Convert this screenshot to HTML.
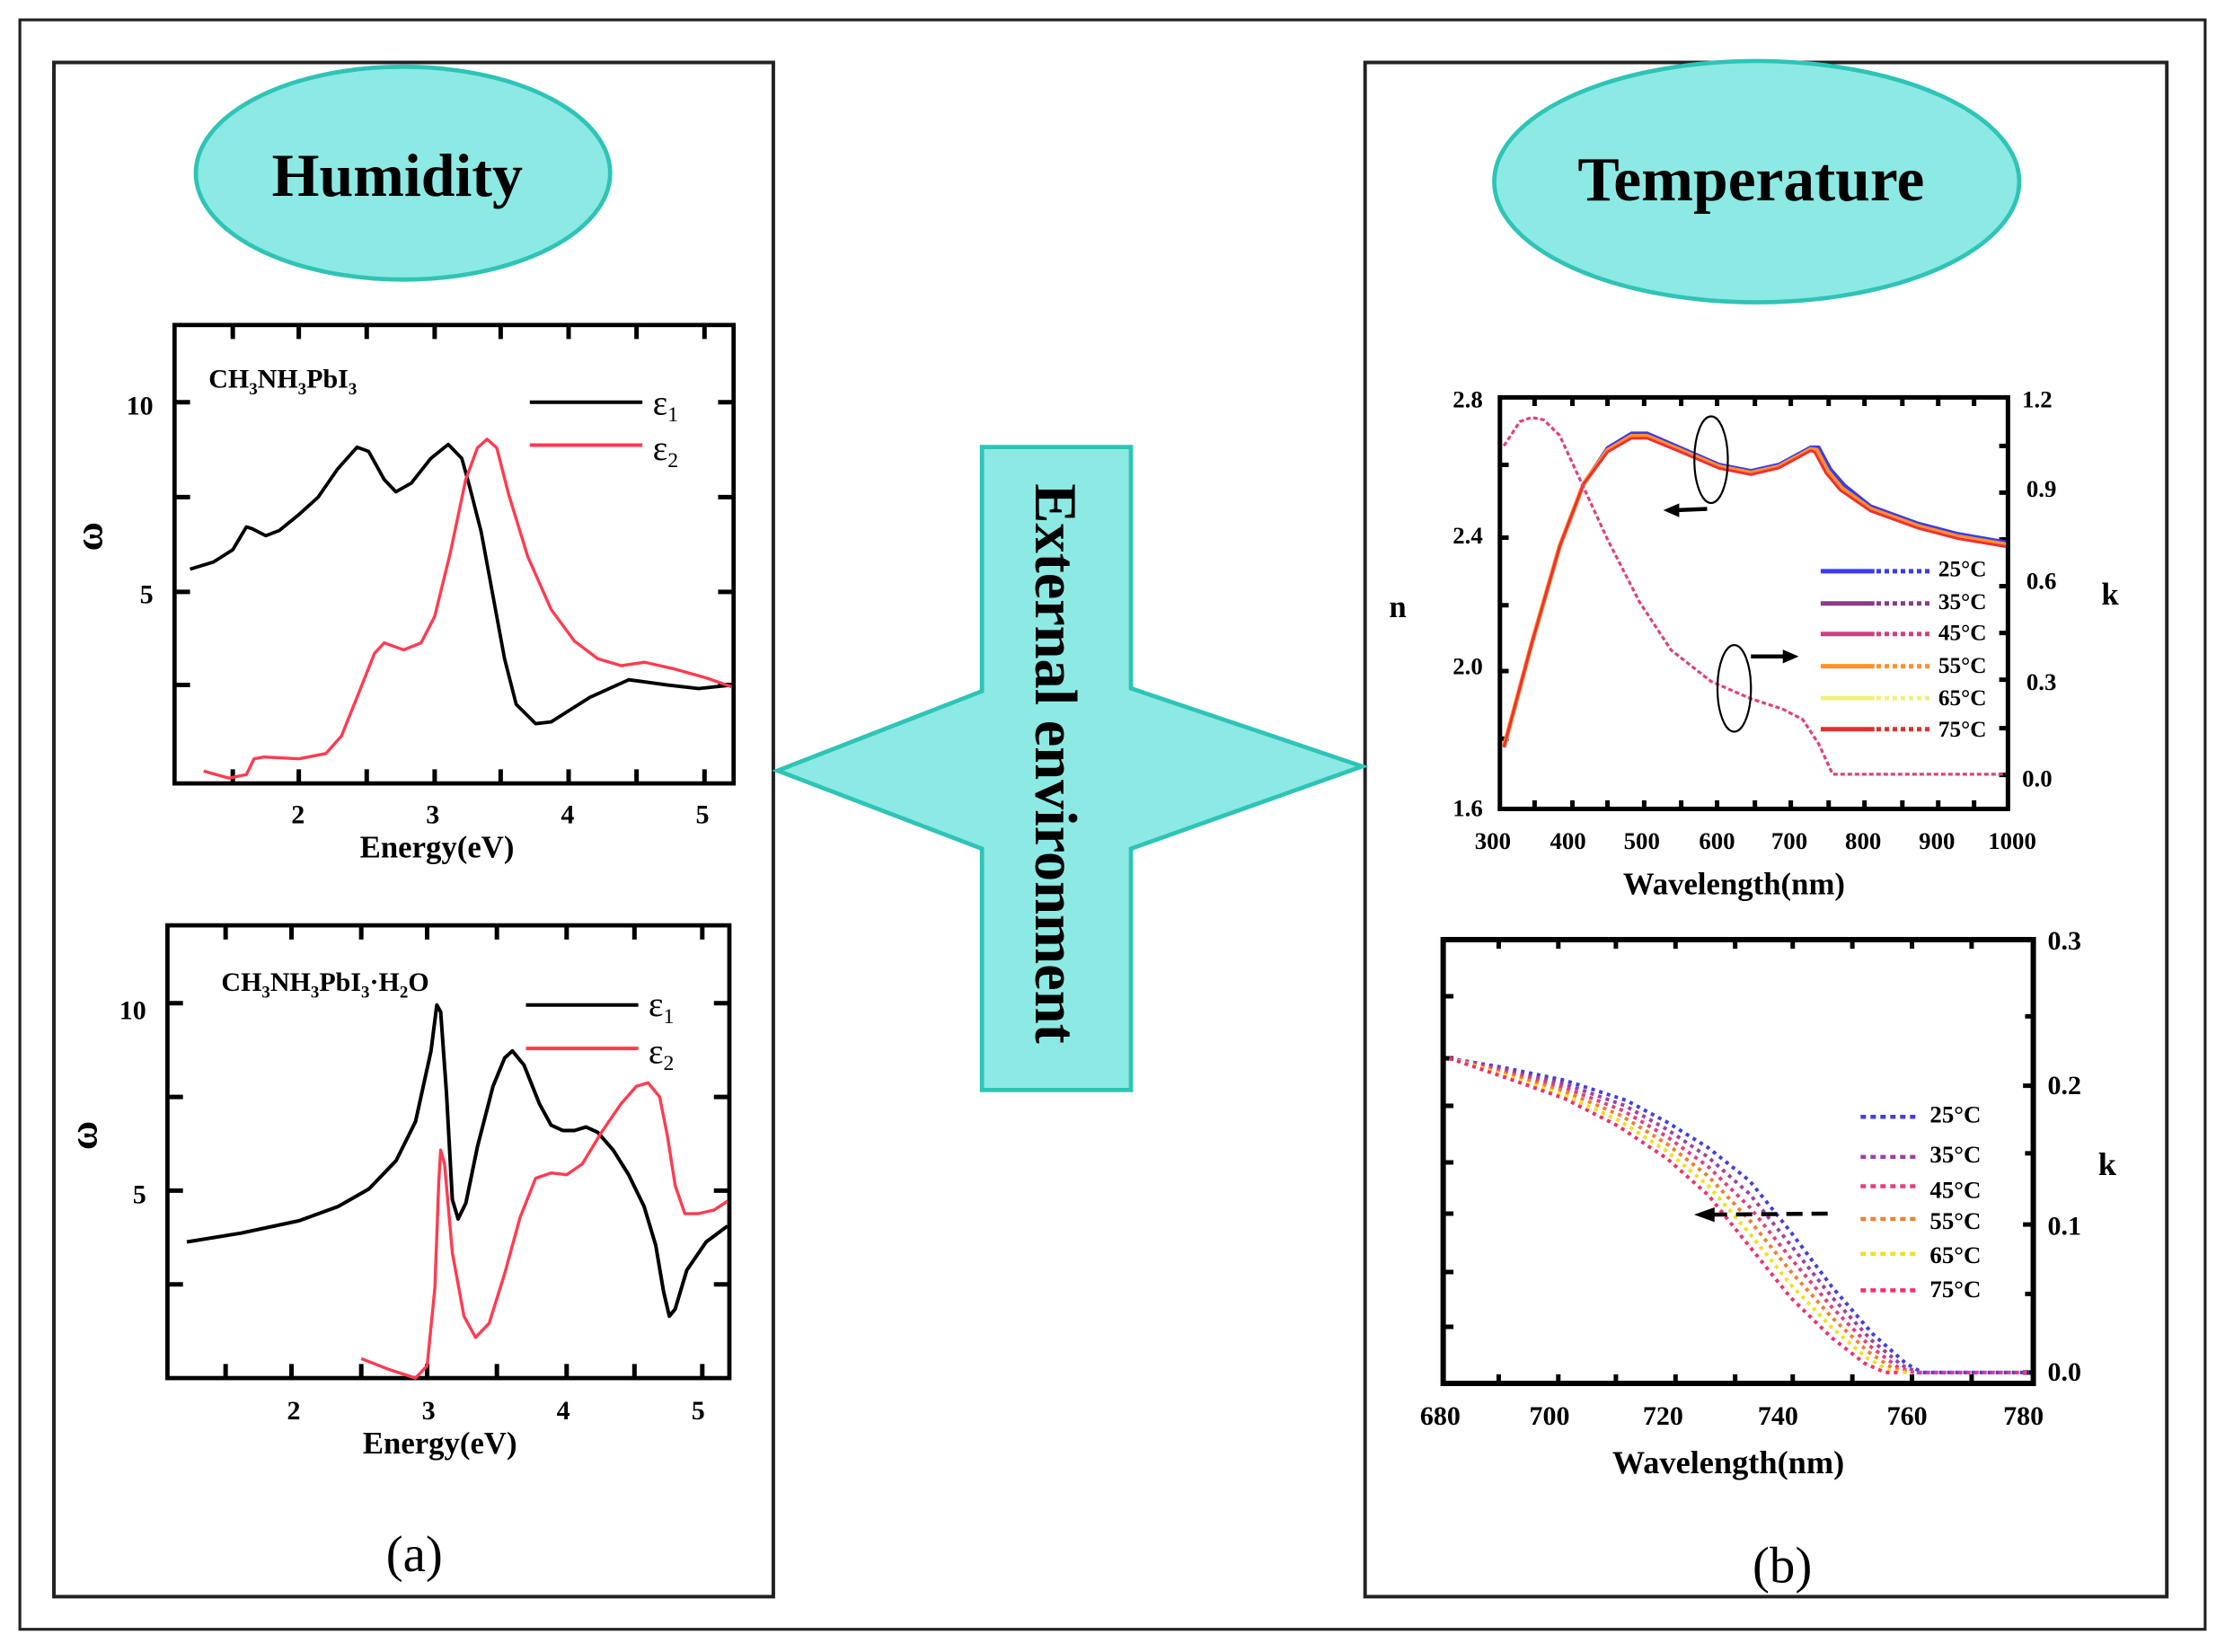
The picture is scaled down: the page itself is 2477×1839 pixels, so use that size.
<!DOCTYPE html>
<html><head><meta charset="utf-8"><style>
html,body{margin:0;padding:0;background:#fff;}
svg{display:block;}
text{font-family:"Liberation Serif",serif;}
</style></head><body>
<svg width="2477" height="1839" viewBox="0 0 1568 1164" preserveAspectRatio="none" xmlns="http://www.w3.org/2000/svg">
<rect x="0" y="0" width="1568" height="1164" fill="#fff"/>
<rect x="14" y="14" width="1540" height="1134" fill="none" stroke="#222" stroke-width="2"/>
<rect x="38" y="44" width="507" height="1081" fill="none" stroke="#222" stroke-width="2.5"/>
<rect x="962" y="44" width="565" height="1081" fill="none" stroke="#222" stroke-width="2.5"/>

<ellipse cx="284" cy="122" rx="146" ry="75" fill="#8de9e3" stroke="#2ec4b6" stroke-width="3"/>
<text x="280" y="138" font-size="43" font-weight="bold" text-anchor="middle">Humidity</text>
<ellipse cx="1238" cy="128" rx="185" ry="85" fill="#8de9e3" stroke="#2ec4b6" stroke-width="3"/>
<text x="1234" y="141" font-size="44" font-weight="bold" text-anchor="middle">Temperature</text>

<polygon points="692,315 797,315 797,485 960,540 797,598 797,768 692,768 692,598 548,543 692,487" fill="#8de9e3" stroke="#2ec4b6" stroke-width="3"/>
<text transform="translate(730,538) rotate(90)" font-size="42" font-weight="bold" text-anchor="middle">External environment</text>

<!-- TOP LEFT PLOT -->
<rect x="123" y="229" width="394" height="323" fill="none" stroke="#000" stroke-width="3"/>
<g transform="translate(114.8,216.6) scale(0.2736,0.2475)" fill="none">
<path vector-effect="non-scaling-stroke" stroke="#000" stroke-width="5" d="M180,50v40M350,50v40M525,50v40M700,50v40M870,50v40M1045,50v40M1220,50v40M1395,50v40 M180,1355v-40M350,1355v-40M525,1355v-40M700,1355v-40M870,1355v-40M1045,1355v-40M1220,1355v-40M1395,1355v-40 M30,270h40M30,540h40M30,810h40M30,1075h40 M1470,270h-40M1470,540h-40M1470,810h-40M1470,1075h-40"/>
<path vector-effect="non-scaling-stroke" stroke="#000" stroke-width="3.8" stroke-linejoin="round" d="M70,745 L130,725 L180,690 L215,625 L230,630 L265,650 L300,635 L350,590 L400,540 L450,460 L500,398 L530,410 L570,490 L600,525 L640,500 L690,430 L735,390 L770,430 L790,510 L820,640 L850,820 L880,1000 L910,1130 L960,1185 L1000,1180 L1100,1110 L1200,1060 L1300,1075 L1380,1085 L1465,1075"/>
<path vector-effect="non-scaling-stroke" stroke="#ff3b50" stroke-width="3.4" stroke-linejoin="round" d="M105,1320 L170,1340 L215,1330 L235,1285 L260,1280 L350,1285 L420,1270 L460,1220 L500,1110 L545,985 L570,955 L620,975 L665,955 L700,880 L740,700 L780,490 L810,400 L835,375 L860,400 L890,530 L940,710 L1000,860 L1060,950 L1120,1000 L1180,1020 L1240,1010 L1320,1030 L1400,1055 L1465,1080"/>
<path vector-effect="non-scaling-stroke" stroke="#000" stroke-width="4" d="M945,270 H1235"/>
<path vector-effect="non-scaling-stroke" stroke="#ff3b50" stroke-width="4" d="M945,392 H1235"/>
</g>
<text x="147" y="273" font-size="19" font-weight="bold">CH<tspan font-size="12" dy="5">3</tspan><tspan dy="-5">NH</tspan><tspan font-size="12" dy="5">3</tspan><tspan dy="-5">PbI</tspan><tspan font-size="12" dy="5">3</tspan></text>
<text x="460" y="292" font-size="25" font-family="Liberation Sans,sans-serif">ε<tspan font-size="15" dy="5">1</tspan></text>
<text x="460" y="324" font-size="25" font-family="Liberation Sans,sans-serif">ε<tspan font-size="15" dy="5">2</tspan></text>
<text x="108" y="292" font-size="19" font-weight="bold" text-anchor="end">10</text>
<text x="108" y="425" font-size="19" font-weight="bold" text-anchor="end">5</text>
<text transform="translate(72,378) rotate(-90)" font-size="28" font-weight="bold" text-anchor="middle">ω</text>
<text x="210" y="580" font-size="19" font-weight="bold" text-anchor="middle">2</text>
<text x="305" y="580" font-size="19" font-weight="bold" text-anchor="middle">3</text>
<text x="400" y="580" font-size="19" font-weight="bold" text-anchor="middle">4</text>
<text x="495" y="580" font-size="19" font-weight="bold" text-anchor="middle">5</text>
<text x="308" y="604" font-size="22" font-weight="bold" text-anchor="middle">Energy(eV)</text>

<!-- BOTTOM LEFT PLOT -->
<rect x="118" y="652" width="396" height="319" fill="none" stroke="#000" stroke-width="3"/>
<g transform="translate(115.3,645.8) scale(0.2731,0.2492)" fill="none">
<path vector-effect="non-scaling-stroke" stroke="#000" stroke-width="5" d="M160,25v40M330,25v40M510,25v40M680,25v40M860,25v40M1040,25v40M1215,25v40M1390,25v40 M160,1305v-40M330,1305v-40M510,1305v-40M680,1305v-40M860,1305v-40M1040,1305v-40M1215,1305v-40M1390,1305v-40 M10,245h40M10,510h40M10,775h40M10,1040h40 M1460,245h-40M1460,510h-40M1460,775h-40M1460,1040h-40"/>
<path vector-effect="non-scaling-stroke" stroke="#000" stroke-width="4" stroke-linejoin="round" d="M60,920 L200,895 L350,860 L450,820 L530,770 L600,690 L650,580 L690,380 L705,250 L715,270 L730,500 L745,800 L760,855 L780,810 L810,650 L850,480 L880,400 L900,380 L930,420 L970,530 L1000,590 L1030,605 L1060,605 L1090,595 L1120,610 L1160,660 L1200,730 L1240,820 L1270,930 L1290,1060 L1305,1130 L1320,1110 L1350,1000 L1400,920 L1455,875"/>
<path vector-effect="non-scaling-stroke" stroke="#ff3b50" stroke-width="3.4" stroke-linejoin="round" d="M510,1250 L580,1280 L650,1305 L680,1270 L700,1050 L710,750 L715,660 L725,700 L745,950 L775,1130 L805,1190 L840,1150 L880,1010 L920,850 L960,740 L1000,725 L1040,730 L1080,700 L1130,610 L1180,530 L1220,480 L1250,470 L1280,510 L1300,620 L1320,760 L1345,840 L1380,840 L1420,830 L1455,805"/>
<path vector-effect="non-scaling-stroke" stroke="#000" stroke-width="4" d="M935,250 H1225"/>
<path vector-effect="non-scaling-stroke" stroke="#ff3b50" stroke-width="4" d="M935,373 H1225"/>
</g>
<text x="156" y="698" font-size="19" font-weight="bold">CH<tspan font-size="12" dy="5">3</tspan><tspan dy="-5">NH</tspan><tspan font-size="12" dy="5">3</tspan><tspan dy="-5">PbI</tspan><tspan font-size="12" dy="5">3</tspan><tspan dy="-5">·H</tspan><tspan font-size="12" dy="5">2</tspan><tspan dy="-5">O</tspan></text>
<text x="457" y="716" font-size="25" font-family="Liberation Sans,sans-serif">ε<tspan font-size="15" dy="5">1</tspan></text>
<text x="457" y="749" font-size="25" font-family="Liberation Sans,sans-serif">ε<tspan font-size="15" dy="5">2</tspan></text>
<text x="103" y="718" font-size="19" font-weight="bold" text-anchor="end">10</text>
<text x="103" y="848" font-size="19" font-weight="bold" text-anchor="end">5</text>
<text transform="translate(68,800) rotate(-90)" font-size="28" font-weight="bold" text-anchor="middle">ω</text>
<text x="207" y="1000" font-size="19" font-weight="bold" text-anchor="middle">2</text>
<text x="302" y="1000" font-size="19" font-weight="bold" text-anchor="middle">3</text>
<text x="397" y="1000" font-size="19" font-weight="bold" text-anchor="middle">4</text>
<text x="492" y="1000" font-size="19" font-weight="bold" text-anchor="middle">5</text>
<text x="310" y="1024" font-size="22" font-weight="bold" text-anchor="middle">Energy(eV)</text>
<text x="292" y="1107" font-size="36" text-anchor="middle">(a)</text>

<!-- TOP RIGHT PLOT -->
<g transform="translate(1014.9,258) scale(0.2808,0.2441)" fill="none">
<rect vector-effect="non-scaling-stroke" x="150" y="90" width="1275" height="1188" stroke="#000" stroke-width="5"/>
<path vector-effect="non-scaling-stroke" stroke="#000" stroke-width="5" d="M237,90v25M332,90v25M420,90v25M512,90v25M605,90v25M695,90v25M790,90v25M880,90v25M975,90v25M1065,90v25M1160,90v25M1250,90v25M1340,90v25 M237,1278v-25M332,1278v-25M420,1278v-25M512,1278v-25M605,1278v-25M695,1278v-25M790,1278v-25M880,1278v-25M975,1278v-25M1065,1278v-25M1160,1278v-25M1250,1278v-25M1340,1278v-25 M150,285h22M150,495h22M150,690h22M150,880h22M150,1075h22 M1425,230h-22M1425,365h-22M1425,500h-22M1425,635h-22M1425,770h-22M1425,905h-22M1425,1045h-22M1425,1180h-22"/>
<path vector-effect="non-scaling-stroke" stroke="#3a3af0" stroke-width="4" stroke-linejoin="round" d="M160,1100 L230,800 L300,520 L360,340 L420,236 L480,194 L520,194 L600,234 L700,284 L780,302 L850,284 L930,234 L950,234 L980,298 L1015,344 L1080,404 L1200,454 L1300,484 L1420,508"/>
<path vector-effect="non-scaling-stroke" stroke="#ff9030" stroke-width="5" stroke-linejoin="round" d="M160,1100 L230,800 L300,520 L360,340 L420,243 L480,202 L520,202 L600,241 L700,290 L780,308 L850,290 L930,240 L945,242 L972,302 L1008,352 L1080,412 L1200,462 L1300,492 L1420,515"/>
<path vector-effect="non-scaling-stroke" stroke="#ee3030" stroke-width="3" stroke-linejoin="round" d="M160,1100 L230,800 L300,520 L360,340 L420,248 L480,208 L520,208 L600,246 L700,295 L780,313 L850,294 L930,244 L940,248 L968,308 L1004,358 L1080,418 L1200,468 L1300,498 L1420,521"/>
<path vector-effect="non-scaling-stroke" stroke="#e0407a" stroke-width="3.2" stroke-dasharray="5 3" stroke-linejoin="round" d="M160,230 L200,160 L230,148 L260,155 L300,200 L360,350 L420,500 L500,680 L580,820 L680,910 L780,960 L860,990 L910,1020 L950,1090 L985,1178 L1420,1178"/>
<ellipse vector-effect="non-scaling-stroke" cx="680" cy="270" rx="42" ry="125" stroke="#000" stroke-width="2.2"/>
<ellipse vector-effect="non-scaling-stroke" cx="738" cy="930" rx="42" ry="125" stroke="#000" stroke-width="2.2"/>
<path vector-effect="non-scaling-stroke" stroke="#000" stroke-width="4.5" d="M670,412 L590,416 M780,838 L870,838"/>
<polygon points="560,416 600,396 600,436" fill="#000"/>
<polygon points="900,838 860,818 860,858" fill="#000"/>
<g stroke-width="5">
<path vector-effect="non-scaling-stroke" stroke="#3a3af0" d="M955,592H1090"/><path vector-effect="non-scaling-stroke" stroke="#3a3af0" stroke-dasharray="5 4" d="M1095,592H1230"/>
<path vector-effect="non-scaling-stroke" stroke="#8a3a8a" d="M955,685H1090"/><path vector-effect="non-scaling-stroke" stroke="#8a3a8a" stroke-dasharray="5 4" d="M1095,685H1230"/>
<path vector-effect="non-scaling-stroke" stroke="#d04080" d="M955,773H1090"/><path vector-effect="non-scaling-stroke" stroke="#d04080" stroke-dasharray="5 4" d="M1095,773H1230"/>
<path vector-effect="non-scaling-stroke" stroke="#ff9030" d="M955,866H1090"/><path vector-effect="non-scaling-stroke" stroke="#ff9030" stroke-dasharray="5 4" d="M1095,866H1230"/>
<path vector-effect="non-scaling-stroke" stroke="#f0f080" d="M955,958H1090"/><path vector-effect="non-scaling-stroke" stroke="#f0f080" stroke-dasharray="5 4" d="M1095,958H1230"/>
<path vector-effect="non-scaling-stroke" stroke="#e03030" d="M955,1048H1090"/><path vector-effect="non-scaling-stroke" stroke="#e03030" stroke-dasharray="5 4" d="M1095,1048H1230"/>
</g>
</g>
<g font-size="16" font-weight="bold">
<text x="1366" y="406">25°C</text><text x="1366" y="429">35°C</text><text x="1366" y="451">45°C</text>
<text x="1366" y="474">55°C</text><text x="1366" y="497">65°C</text><text x="1366" y="519">75°C</text>
</g>
<g font-size="17" font-weight="bold">
<text x="1045" y="287" text-anchor="end">2.8</text>
<text x="1045" y="383" text-anchor="end">2.4</text>
<text x="1045" y="475" text-anchor="end">2.0</text>
<text x="1045" y="575" text-anchor="end">1.6</text>
<text x="1425" y="287">1.2</text>
<text x="1428" y="350">0.9</text>
<text x="1428" y="415">0.6</text>
<text x="1428" y="486">0.3</text>
<text x="1425" y="554">0.0</text>
<text x="1052" y="598" text-anchor="middle">300</text>
<text x="1105" y="598" text-anchor="middle">400</text>
<text x="1157" y="598" text-anchor="middle">500</text>
<text x="1210" y="598" text-anchor="middle">600</text>
<text x="1261" y="598" text-anchor="middle">700</text>
<text x="1313" y="598" text-anchor="middle">800</text>
<text x="1365" y="598" text-anchor="middle">900</text>
<text x="1418" y="598" text-anchor="middle">1000</text>
</g>
<text x="1222" y="630" font-size="22" font-weight="bold" text-anchor="middle">Wavelength(nm)</text>
<text x="985" y="435" font-size="22" font-weight="bold" text-anchor="middle">n</text>
<text x="1487" y="426" font-size="22" font-weight="bold" text-anchor="middle">k</text>

<!-- BOTTOM RIGHT PLOT -->
<g transform="translate(1001.1,646.6) scale(0.2898,0.2574)" fill="none">
<rect vector-effect="non-scaling-stroke" x="55" y="60" width="1435" height="1215" stroke="#000" stroke-width="6"/>
<path vector-effect="non-scaling-stroke" stroke="#000" stroke-width="5" d="M190,60v25M335,60v25M475,60v25M620,60v25M765,60v25M905,60v25M1050,60v25M1195,60v25M1340,60v25 M190,1275v-25M335,1275v-25M475,1275v-25M620,1275v-25M765,1275v-25M905,1275v-25M1050,1275v-25M1195,1275v-25M1340,1275v-25 M55,215h25M55,385h25M55,515h25M55,670h25M55,810h25M55,970h25M55,1120h25 M1490,270h-20M1490,460h-25M1490,645h-20M1490,840h-25M1490,1030h-20M1490,1245h-25"/>
<g stroke-width="4" stroke-dasharray="4 5" stroke-linejoin="round">
<path vector-effect="non-scaling-stroke" stroke="#4040e0" d="M70,385 L200,410 L350,445 L500,500 L600,560 L700,630 L800,720 L900,860 L1000,1010 L1100,1140 L1180,1220 L1220,1245 L1480,1245"/>
<path vector-effect="non-scaling-stroke" stroke="#a040a0" d="M70,385 L200,415 L350,455 L496,514 L600,580 L700,656 L800,756 L900,896 L1000,1038 L1096,1156 L1170,1225 L1210,1245 L1480,1245"/>
<path vector-effect="non-scaling-stroke" stroke="#e04080" d="M70,385 L200,420 L350,465 L492,528 L600,600 L700,682 L800,792 L900,932 L1000,1066 L1092,1172 L1160,1230 L1200,1245 L1480,1245"/>
<path vector-effect="non-scaling-stroke" stroke="#f08030" d="M70,385 L200,425 L350,475 L488,542 L600,620 L700,708 L800,828 L900,968 L1000,1094 L1088,1188 L1150,1235 L1190,1245"/>
<path vector-effect="non-scaling-stroke" stroke="#f0e020" d="M70,385 L200,430 L350,485 L484,556 L600,640 L700,734 L800,864 L900,1004 L1000,1122 L1084,1204 L1140,1240 L1180,1245"/>
<path vector-effect="non-scaling-stroke" stroke="#f03070" d="M70,385 L200,435 L350,495 L480,570 L600,660 L700,760 L800,900 L900,1040 L1000,1150 L1080,1220 L1130,1245 L1170,1245"/>
</g>
<g stroke-width="4.5" stroke-dasharray="6 5">
<path vector-effect="non-scaling-stroke" stroke="#4040e0" d="M1070,545H1210"/>
<path vector-effect="non-scaling-stroke" stroke="#a040a0" d="M1070,655H1210"/>
<path vector-effect="non-scaling-stroke" stroke="#e04080" d="M1070,735H1210"/>
<path vector-effect="non-scaling-stroke" stroke="#f08030" d="M1070,825H1210"/>
<path vector-effect="non-scaling-stroke" stroke="#f0e020" d="M1070,920H1210"/>
<path vector-effect="non-scaling-stroke" stroke="#f03070" d="M1070,1020H1210"/>
</g>
<path vector-effect="non-scaling-stroke" stroke="#000" stroke-width="4.5" stroke-dasharray="18 10" d="M990,810 L700,813"/>
<polygon points="665,813 715,793 715,833" fill="#000"/>
</g>
<g font-size="17" font-weight="bold">
<text x="1360" y="791">25°C</text><text x="1360" y="819">35°C</text><text x="1360" y="844">45°C</text>
<text x="1360" y="866">55°C</text><text x="1360" y="890">65°C</text><text x="1360" y="914">75°C</text>
</g>
<g font-size="19" font-weight="bold">
<text x="1443" y="669">0.3</text>
<text x="1443" y="771">0.2</text>
<text x="1443" y="870">0.1</text>
<text x="1443" y="973">0.0</text>
<text x="1015" y="1004" text-anchor="middle">680</text>
<text x="1092" y="1004" text-anchor="middle">700</text>
<text x="1172" y="1004" text-anchor="middle">720</text>
<text x="1253" y="1004" text-anchor="middle">740</text>
<text x="1344" y="1004" text-anchor="middle">760</text>
<text x="1426" y="1004" text-anchor="middle">780</text>
</g>
<text x="1218" y="1038" font-size="23" font-weight="bold" text-anchor="middle">Wavelength(nm)</text>
<text x="1485" y="828" font-size="23" font-weight="bold" text-anchor="middle">k</text>
<text x="1256" y="1115" font-size="36" text-anchor="middle">(b)</text>
</svg>
</body></html>
